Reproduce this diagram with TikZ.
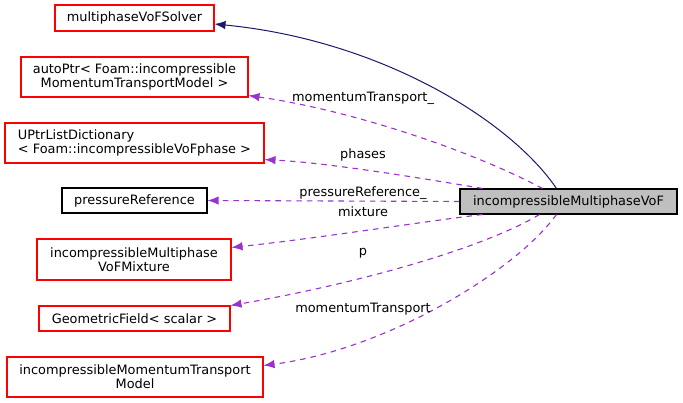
\documentclass[tikz,border=0pt]{standalone}
\usepackage{fontspec}
\setmainfont{DejaVu Sans}
\usetikzlibrary{arrows.meta}
\definecolor{edgepurple}{HTML}{9A32CD}
\definecolor{edgenavy}{HTML}{191970}
\definecolor{maingray}{HTML}{BFBFBF}
\begin{document}
\begin{tikzpicture}[x=1pt,y=-1pt,
  every node/.style={font=\fontsize{12.9}{14}\selectfont, inner sep=0pt},
  cls/.style={draw=red, line width=1.05pt, rectangle, align=center},
  docls/.style={draw=black, line width=1.05pt, rectangle, align=center},
  mainbox/.style={draw=black, fill=maingray, line width=1.05pt, rectangle},
  usage/.style={draw=edgepurple, line width=1.1pt, dash pattern=on 5.5pt off 5pt,
    -{Latex[length=11pt,width=8.5pt]}},
  inherit/.style={draw=edgenavy, line width=1pt, -{Latex[length=11pt,width=8.5pt]}},
  lbl/.style={anchor=base}]
\useasboundingbox (0,0) rectangle (683,403);
\fill[white] (0,0) rectangle (683,403);

\node[cls, minimum width=159pt, minimum height=26pt] (solver) at (134.5,18) {multiphaseVoFSolver};
\node[cls, minimum width=227pt, minimum height=40pt] (autoptr) at (134.5,77) {autoPtr< Foam::incompressible\\MomentumTransportModel >};
\node[cls, align=left, minimum width=259pt, minimum height=40pt] (uptr) at (134.5,143) {UPtrListDictionary\\< Foam::incompressibleVoFphase >};
\node[docls, minimum width=145pt, minimum height=25pt] (pref) at (134.5,200.5) {pressureReference};
\node[cls, minimum width=194pt, minimum height=41pt] (mix) at (134,259.5) {incompressibleMultiphase\\VoFMixture};
\node[cls, minimum width=191pt, minimum height=25pt] (geo) at (134.5,318.5) {GeometricField< scalar >};
\node[cls, minimum width=256pt, minimum height=40pt] (imtm) at (135,377) {incompressibleMomentumTransport\\Model};
\node[mainbox, minimum width=217pt, minimum height=25pt] (main) at (568.5,201.5) {incompressibleMultiphaseVoF};

\draw[inherit] ([xshift=97pt]main.north west) .. controls (510,120) and (380,40) .. ([yshift=-6pt]solver.east);

\draw[usage] ([xshift=83pt]main.north west) .. controls (470,150) and (350,110) .. ([yshift=2pt]autoptr.south east);
\draw[usage] ([xshift=23pt]main.north west) .. controls (420,178) and (330,163) .. ([yshift=4pt]uptr.south east);
\draw[usage] (main.west) -- (pref.east);
\draw[usage] ([xshift=23pt]main.south west) .. controls (420,222) and (320,238) .. ([yshift=-9pt]mix.north east);
\draw[usage] ([xshift=80pt]main.south west) .. controls (480,250) and (350,285) .. (geo.north east);
\draw[usage] ([xshift=97pt]main.south west) .. controls (515,272) and (385,350) .. ([yshift=-9pt]imtm.north east);

\node[lbl] (l1) at (363,101.5) {momentumTransport\_};
\node[lbl] (l2) at (363,159) {phases};
\node[lbl] (l3) at (363,197) {pressureReference\_};
\node[lbl] (l4) at (363,217) {mixture};
\node[lbl] (l5) at (363,255.5) {p};
\node[lbl] (l6) at (363,313) {momentumTransport};
\end{tikzpicture}
\end{document}
